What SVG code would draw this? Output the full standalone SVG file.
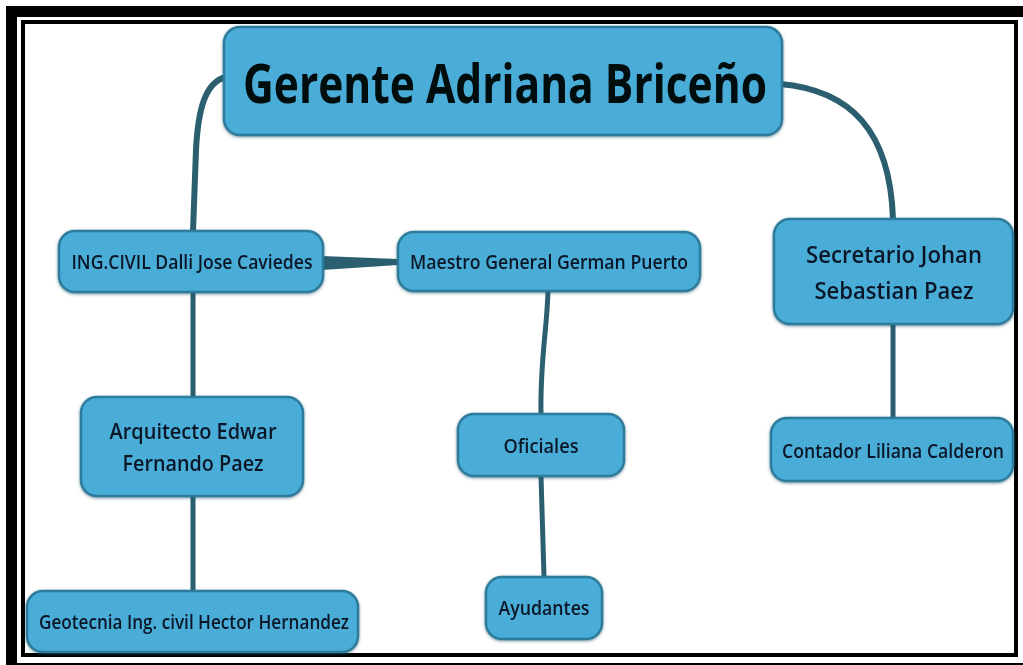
<svg xmlns="http://www.w3.org/2000/svg" width="1023" height="665" viewBox="0 0 1023 665">
<defs>
<style>
.box{fill:#48add8;stroke:#2f7c9c;stroke-width:2.5}
.t{font-family:"Open Sans","Liberation Sans",sans-serif;font-weight:600;fill:#0c1828;text-anchor:middle}
.big{font-weight:700;fill:#05080f}
.c{fill:none;stroke:#2b5f70;stroke-width:5;stroke-linecap:round}
</style>
<filter id="sh" x="-10%" y="-20%" width="120%" height="140%">
<feDropShadow dx="0" dy="1" stdDeviation="1.5" flood-color="#1d4d60" flood-opacity="0.6"/>
</filter>
</defs>
<rect x="0" y="0" width="1023" height="665" fill="#ffffff"/>
<rect x="11.5" y="11.5" width="1017" height="657" fill="none" stroke="#000" stroke-width="11"/>
<rect x="23" y="22" width="993" height="633" fill="none" stroke="#000" stroke-width="4"/>
<g id="connectors">
<path class="c" d="M226 77 C205 82 198 110 196 150 L193 231" style="stroke-width:6"/>
<path class="c" d="M780 84 C850 90 890 130 893 219" style="stroke-width:6"/>
<path d="M322 256 L398 259 L398 265 L322 270 Z" fill="#2b5f70"/>
<path class="c" d="M193 292 L193 397"/>
<path class="c" d="M193 496 L193 591"/>
<path class="c" d="M548 291 C547 330 540 360 541 414"/>
<path class="c" d="M541 476 L544 577"/>
<path class="c" d="M893 324 L893 418"/>
</g>
<g id="n-gerente" filter="url(#sh)">
<rect class="box" x="224" y="27" width="558" height="108" rx="16"/>
<text class="t big" x="505" y="103" font-size="54" textLength="524" lengthAdjust="spacingAndGlyphs">Gerente Adriana Briceño</text>
</g>
<g id="n-ing" filter="url(#sh)">
<rect class="box" x="59" y="231" width="264" height="61" rx="16"/>
<text class="t" x="192" y="269" font-size="19" textLength="241" lengthAdjust="spacingAndGlyphs">ING.CIVIL Dalli Jose Caviedes</text>
</g>
<g id="n-maestro" filter="url(#sh)">
<rect class="box" x="398" y="232" width="302" height="59" rx="16"/>
<text class="t" x="549" y="269" font-size="19" textLength="278" lengthAdjust="spacingAndGlyphs">Maestro General German Puerto</text>
</g>
<g id="n-secretario" filter="url(#sh)">
<rect class="box" x="774" y="219" width="239" height="105" rx="16"/>
<text class="t" x="894" y="263" font-size="23" textLength="176" lengthAdjust="spacingAndGlyphs">Secretario Johan</text>
<text class="t" x="894" y="299" font-size="23" textLength="159" lengthAdjust="spacingAndGlyphs">Sebastian Paez</text>
</g>
<g id="n-arquitecto" filter="url(#sh)">
<rect class="box" x="81" y="397" width="222" height="99" rx="16"/>
<text class="t" x="193" y="439" font-size="21" textLength="167" lengthAdjust="spacingAndGlyphs">Arquitecto Edwar</text>
<text class="t" x="193" y="471" font-size="21" textLength="141" lengthAdjust="spacingAndGlyphs">Fernando Paez</text>
</g>
<g id="n-oficiales" filter="url(#sh)">
<rect class="box" x="458" y="414" width="166" height="62" rx="16"/>
<text class="t" x="541" y="453" font-size="19" textLength="75" lengthAdjust="spacingAndGlyphs">Oficiales</text>
</g>
<g id="n-contador" filter="url(#sh)">
<rect class="box" x="771" y="418" width="242" height="63" rx="16"/>
<text class="t" x="893" y="458" font-size="19" textLength="222" lengthAdjust="spacingAndGlyphs">Contador Liliana Calderon</text>
</g>
<g id="n-geotecnia" filter="url(#sh)">
<rect class="box" x="27" y="591" width="331" height="61" rx="16"/>
<text class="t" x="194" y="629" font-size="19" textLength="310" lengthAdjust="spacingAndGlyphs">Geotecnia Ing. civil Hector Hernandez</text>
</g>
<g id="n-ayudantes" filter="url(#sh)">
<rect class="box" x="486" y="577" width="116" height="62" rx="16"/>
<text class="t" x="544" y="615" font-size="19" textLength="91" lengthAdjust="spacingAndGlyphs">Ayudantes</text>
</g>
</svg>
